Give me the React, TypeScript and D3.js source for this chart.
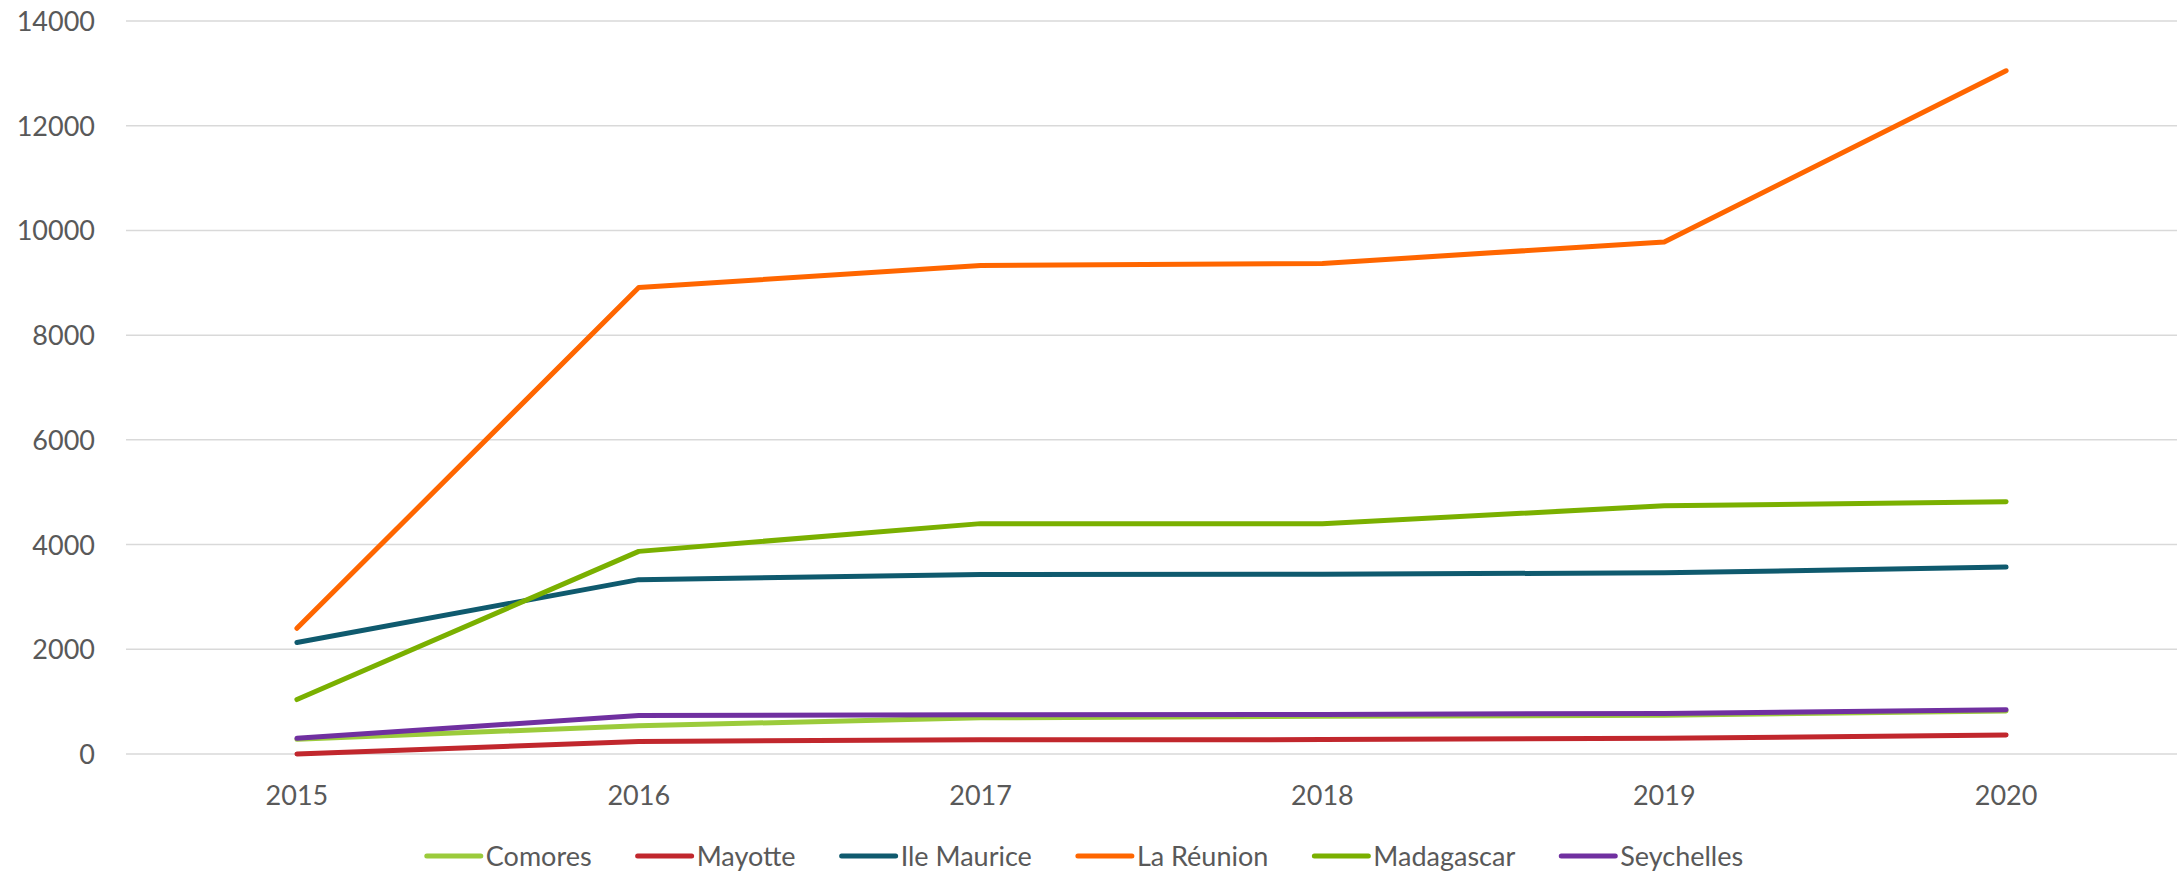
import React, { useEffect, useRef } from "react";
import * as d3 from "d3";

const years = ["2015", "2016", "2017", "2018", "2019", "2020"];
const yTicks = [0, 2000, 4000, 6000, 8000, 10000, 12000, 14000];

const comores = [280, 540, 690, 720, 740, 820];
const mayotte = [0, 240, 270, 275, 300, 365];
const ileMaurice = [2130, 3330, 3430, 3435, 3460, 3570];
const laReunion = [2400, 8910, 9330, 9370, 9780, 13050];
const madagascar = [1040, 3870, 4400, 4400, 4740, 4820];
const seychelles = [300, 735, 750, 755, 775, 845];

const seriesNames = ["Comores", "Mayotte", "Ile Maurice", "La Réunion", "Madagascar", "Seychelles"];
const seriesValues = [comores, mayotte, ileMaurice, laReunion, madagascar, seychelles];
const colors = ["#9BCB3B", "#C1272D", "#0F5A6E", "#FF6600", "#7AB000", "#7030A0"];

const App = () => {
  const width = 2183;
  const height = 875;
  const margin = { top: 21, right: 6, bottom: 121, left: 126 };
  const font = "Lato, 'Open Sans', sans-serif";

  const svgRef = useRef<SVGSVGElement>(null);

  useEffect(() => {
    const svg = d3.select(svgRef.current);
    svg.selectAll("*").remove();

    const x = d3
      .scaleBand()
      .domain(years)
      .range([margin.left, width - margin.right]);

    const y = d3
      .scaleLinear()
      .domain([0, 14000])
      .range([height - margin.bottom, margin.top]);

    // gridlines
    svg
      .append("g")
      .selectAll("line")
      .data(yTicks)
      .join("line")
      .attr("x1", margin.left)
      .attr("x2", width - margin.right)
      .attr("y1", (d) => y(d))
      .attr("y2", (d) => y(d))
      .attr("stroke", "#D9D9D9")
      .attr("stroke-width", 1.5);

    // y labels
    svg
      .append("g")
      .attr("text-anchor", "end")
      .attr("fill", "#595959")
      .attr("font-family", font)
      .attr("font-size", 27)
      .selectAll("text")
      .data(yTicks)
      .join("text")
      .attr("x", 95)
      .attr("y", (d) => y(d) + 10)
      .text((d) => d);

    // x labels
    svg
      .append("g")
      .attr("text-anchor", "middle")
      .attr("fill", "#595959")
      .attr("font-family", font)
      .attr("font-size", 27)
      .selectAll("text")
      .data(years)
      .join("text")
      .attr("x", (d) => x(d)! + x.bandwidth() / 2)
      .attr("y", 805)
      .text((d) => d);

    const line = d3
      .line<number>()
      .x((d, i) => x(years[i])! + x.bandwidth() / 2)
      .y((d) => y(d));

    seriesValues.forEach((data, i) => {
      svg
        .append("path")
        .datum(data)
        .attr("fill", "none")
        .attr("stroke", colors[i])
        .attr("stroke-width", 5)
        .attr("stroke-linecap", "round")
        .attr("stroke-linejoin", "round")
        .attr("d", line);
    });

    // legend, measured then centered
    const legend = svg.append("g").attr("font-family", font).attr("font-size", 27).attr("fill", "#595959");
    const swatch = 54;
    const gap = 5;
    const spacing = 46;
    let cursor = 0;
    seriesNames.forEach((name, i) => {
      const g = legend.append("g");
      g.append("line")
        .attr("x1", 0)
        .attr("x2", swatch)
        .attr("y1", 0)
        .attr("y2", 0)
        .attr("stroke", colors[i])
        .attr("stroke-width", 5)
        .attr("stroke-linecap", "round");
      const t = g.append("text").attr("x", swatch + gap).attr("y", 10).text(name);
      const w = swatch + gap + (t.node() as SVGTextElement).getComputedTextLength();
      g.attr("transform", `translate(${cursor},0)`);
      cursor += w + spacing;
    });
    const total = cursor - spacing;
    legend.attr("transform", `translate(${1085 - total / 2},856)`);
  }, []);

  return (
    <div style={{ position: "absolute", left: 0, top: 0 }}>
      <svg ref={svgRef} width={width} height={height} style={{ display: "block", background: "white" }} />
    </div>
  );
};

export default App;
